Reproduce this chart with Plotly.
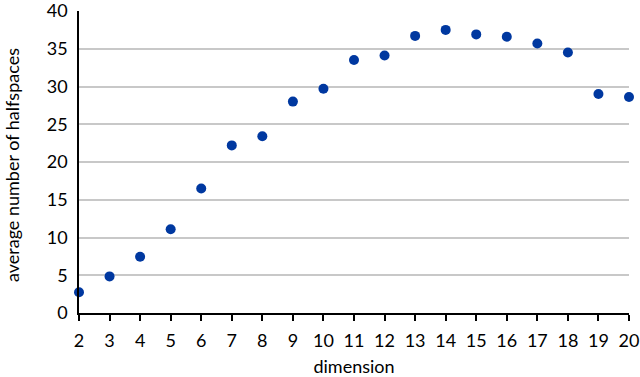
import plotly.graph_objects as go

dimension = list(range(2, 21))
avg_halfspaces = [2.75, 4.85, 7.45, 11.1, 16.5, 22.2, 23.4, 28.0, 29.7, 33.5, 34.1,
                  36.7, 37.5, 36.9, 36.6, 35.7, 34.5, 29.0, 28.6]

font = "Lato, 'Open Sans', sans-serif"

L, R, T, B = 79, 11, 11, 64
W, H = 640, 377

fig = go.Figure(go.Scatter(
    x=dimension, y=avg_halfspaces, mode="markers",
    marker=dict(color="#0038a0", size=10),
    cliponaxis=False,
))

fig.update_layout(
    width=W, height=H,
    margin=dict(l=L, r=R, t=T, b=B),
    paper_bgcolor="white", plot_bgcolor="white",
    font=dict(family=font, size=18, color="#000"),
    showlegend=False,
)
fig.update_xaxes(
    range=[2, 20], tickmode="linear", tick0=2, dtick=1,
    showgrid=False, zeroline=False,
    showline=True, linecolor="#000", linewidth=1.5,
    ticks="outside", ticklen=6, tickcolor="#000", tickwidth=1.5,
    ticklabelstandoff=5,
    title=dict(text="dimension", font=dict(size=18)),
    tickfont=dict(size=18), automargin=False, ticklabeloverflow="allow",
)
fig.update_yaxes(
    range=[0, 40], tickmode="linear", tick0=0, dtick=5,
    showgrid=True, gridcolor="#c8c8c8", gridwidth=1.5,
    zeroline=False,
    showline=True, linecolor="#000", linewidth=1.5,
    ticks="", ticklabelstandoff=6,
    tickfont=dict(size=18), automargin=False, ticklabeloverflow="allow",
)
plot_w = W - L - R
plot_h = H - T - B
fig.add_annotation(
    text="average number of halfspaces", textangle=-90,
    xref="paper", yref="paper",
    x=-(L - 12) / plot_w, y=0.5 - 3 / plot_h,
    xanchor="center", yanchor="middle", showarrow=False,
    font=dict(size=18),
)

fig.write_html("out.html", post_script="document.body.style.margin='0';",
               config={"displayModeBar": False})
